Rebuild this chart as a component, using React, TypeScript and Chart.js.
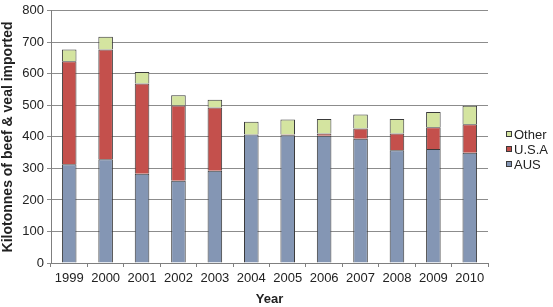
import React, { useEffect, useRef } from "react";
import { Chart, registerables } from "chart.js";

Chart.register(...registerables);

const years = ["1999", "2000", "2001", "2002", "2003", "2004", "2005", "2006", "2007", "2008", "2009", "2010"];
const aus = [313, 329, 283, 261, 293, 408, 405, 404, 394, 358, 362, 350];
const usa = [327, 348, 286, 239, 200, 0, 3, 7, 33, 53, 69, 90];
const other = [37, 41, 37, 32, 25, 40, 47, 46, 44, 46, 48, 59];
const yTicks = [0, 100, 200, 300, 400, 500, 600, 700, 800];

const FONT = "'Liberation Sans', Arial, sans-serif";

const legendPlugin = {
  id: "customLegend",
  afterDraw(chart: any) {
    const ctx = chart.ctx;
    const ds = chart.data.datasets;
    const order = [2, 1, 0];
    ctx.save();
    ctx.font = `13px ${FONT}`;
    ctx.textBaseline = "middle";
    ctx.textAlign = "left";
    order.forEach((idx, i) => {
      const d = ds[idx];
      const y = 134 + i * 15;
      const x = 506.5;
      ctx.fillStyle = d.backgroundColor;
      ctx.fillRect(x, y - 2.5, 5, 5);
      ctx.strokeStyle = "#3a3a3a";
      ctx.lineWidth = 1;
      ctx.strokeRect(x, y - 2.5, 5, 5);
      ctx.fillStyle = "#222";
      ctx.fillText(d.label, 514, y + 1);
    });
    ctx.restore();
  },
};

export default function App() {
  const ref = useRef<HTMLCanvasElement | null>(null);
  useEffect(() => {
    document.body.style.margin = "0";
    const mk = (label: string, data: number[], color: string) => ({
      label,
      data,
      backgroundColor: color,
      borderColor: "#3a3a3a",
      borderWidth: (c: any) => {
        const v = c.raw;
        return v ? { top: 1, left: 1, right: 1, bottom: 0 } : 0;
      },
      borderSkipped: false as const,
      categoryPercentage: 1,
      barPercentage: 0.4,
    });
    const chart = new Chart(ref.current as HTMLCanvasElement, {
      type: "bar",
      data: {
        labels: years,
        datasets: [
          mk("AUS", aus, "#8496b4"),
          mk("U.S.A", usa, "#c4504c"),
          mk("Other", other, "#d4e4a0"),
        ],
      },
      options: {
        animation: false,
        responsive: false,
        maintainAspectRatio: false,
        layout: { padding: { left: 0, right: 65, top: -3, bottom: 0 } },
        plugins: { legend: { display: false }, tooltip: { enabled: false } },
        scales: {
          x: {
            stacked: true,
            grid: {
              display: true,
              drawOnChartArea: false,
              drawTicks: true,
              tickLength: 4,
              color: "#7f7f7f",
              offset: true,
            },
            border: { display: true, color: "#7f7f7f" },
            ticks: { color: "#222", font: { family: FONT, size: 13 }, padding: 4, maxRotation: 0 },
            title: {
              display: true,
              text: "Year",
              color: "#222",
              font: { family: FONT, size: 13, weight: "bold" },
              padding: { top: 3, bottom: 0 },
            },
            afterFit: (s: any) => {
              s.height = 44;
            },
          },
          y: {
            stacked: true,
            min: 0,
            max: 800,
            afterBuildTicks: (s: any) => {
              s.ticks = yTicks.map((v) => ({ value: v }));
            },
            grid: { color: "#8c8c8c", tickLength: 4, lineWidth: 1 },
            border: { display: true, color: "#7f7f7f" },
            ticks: { color: "#222", font: { family: FONT, size: 13 }, padding: 3 },
            title: {
              display: true,
              text: "Kilotonnes of beef & veal imported",
              color: "#222",
              font: { family: FONT, size: 14, weight: "bold" },
              padding: { top: 0, bottom: 0 },
            },
            afterFit: (s: any) => {
              s.width = 51;
            },
          },
        },
      },
      plugins: [legendPlugin],
    });
    return () => chart.destroy();
  }, []);
  return (
    <div style={{ position: "absolute", left: 0, top: 0, width: 553, height: 307, background: "#fff" }}>
      <canvas ref={ref} width={553} height={307} style={{ width: 553, height: 307, display: "block" }} />
    </div>
  );
}
